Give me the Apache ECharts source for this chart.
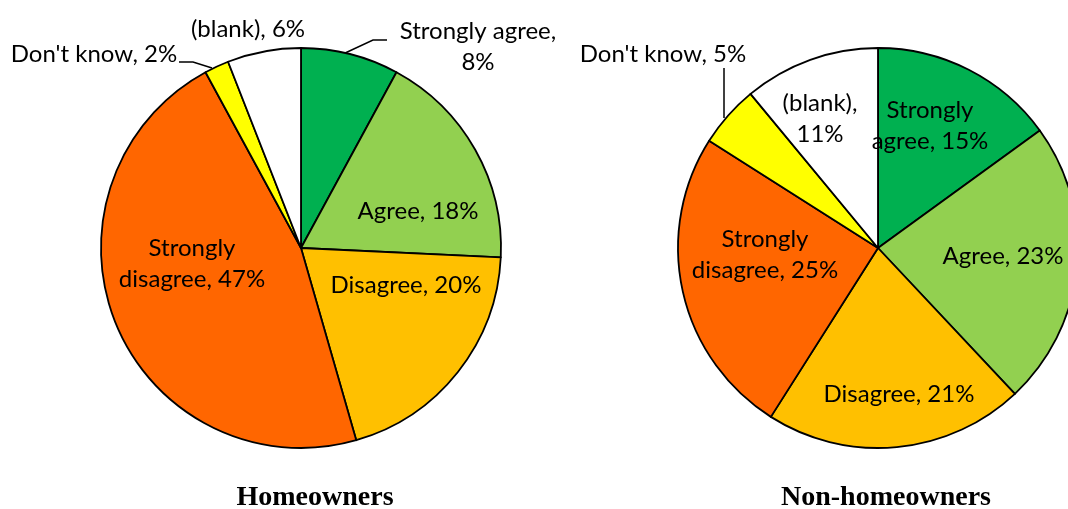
<!DOCTYPE html>
<html>
<head>
<meta charset="utf-8">
<script src="https://cdn.jsdelivr.net/npm/echarts@6/dist/echarts.min.js"></script>
<style>
  html, body { margin: 0; padding: 0; background: #fff; }
  #chart { width: 1068px; height: 509px; }
</style>
</head>
<body>
<div id="chart"></div>
<script>
// Survey answers, clockwise from 12 o'clock
const categories = ['Strongly agree', 'Agree', 'Disagree', 'Strongly disagree', "Don't know", '(blank)'];
const homeownerValues = [8, 18, 20, 47, 2, 6];
const nonHomeownerValues = [15, 23, 21, 25, 5, 11];
const chartTitles = ['Homeowners', 'Non-homeowners'];

const sliceColors = ['#00B050', '#92D050', '#FFC000', '#FF6600', '#FFFF00', '#FFFFFF'];

const LABEL_FONT = 'Lato, "Open Sans", sans-serif';

// Label placement per pie: centre of the text block, how the text wraps, optional leader line
const labelPlacement = [
  [
    { x: 478, y: 47,  wrap: 'comma', line: [[343, 54], [373, 40], [387, 40]] },
    { x: 418, y: 211, wrap: null },
    { x: 406, y: 285, wrap: null },
    { x: 192, y: 264, wrap: 'word' },
    { x: 94,  y: 54,  wrap: null, line: [[212, 68], [193, 62], [179, 62]] },
    { x: 248, y: 29,  wrap: null }
  ],
  [
    { x: 930, y: 126, wrap: 'word' },
    { x: 1003, y: 256, wrap: null },
    { x: 899, y: 394, wrap: null },
    { x: 765, y: 255, wrap: 'word' },
    { x: 663, y: 54,  wrap: null, line: [[724, 118], [724, 92], [724, 68]] },
    { x: 820, y: 119, wrap: 'comma' }
  ]
];

function labelText(seriesIndex, dataIndex, name, value) {
  const p = labelPlacement[seriesIndex][dataIndex];
  if (p.wrap === 'comma') return name + ',\n' + value + '%';
  if (p.wrap === 'word') {
    const i = name.indexOf(' ');
    return name.slice(0, i) + '\n' + name.slice(i + 1) + ', ' + value + '%';
  }
  return name + ', ' + value + '%';
}

function buildData(values, seriesIndex) {
  return categories.map((name, i) => ({
    name: name,
    value: values[i],
    itemStyle: { color: sliceColors[i] },
    labelLine: { show: !!labelPlacement[seriesIndex][i].line }
  }));
}

function pieSeries(values, seriesIndex, center) {
  return {
    type: 'pie',
    center: center,
    radius: 200,
    startAngle: 90,
    clockwise: true,
    avoidLabelOverlap: false,
    animation: false,
    silent: true,
    itemStyle: { borderColor: '#000', borderWidth: 1.8 },
    label: {
      show: true,
      position: 'outside',
      color: '#000',
      fontFamily: LABEL_FONT,
      fontSize: 24,
      lineHeight: 31,
      formatter: (p) => labelText(p.seriesIndex, p.dataIndex, p.name, p.value)
    },
    labelLine: {
      show: true,
      lineStyle: { color: '#000', width: 1.5 }
    },
    labelLayout: (params) => {
      const p = labelPlacement[params.seriesIndex][params.dataIndex];
      const out = { x: p.x, y: p.y, align: 'center', verticalAlign: 'middle' };
      if (p.line) out.labelLinePoints = p.line;
      return out;
    },
    data: buildData(values, seriesIndex)
  };
}

const chart = echarts.init(document.getElementById('chart'), null, { renderer: 'canvas' });
chart.setOption({
  backgroundColor: '#fff',
  animation: false,
  title: [
    {
      text: chartTitles[0], left: 310, top: 479, textAlign: 'center',
      textStyle: { fontFamily: '"Liberation Serif", "Times New Roman", serif', fontWeight: 'bold', fontSize: 28, color: '#000' }
    },
    {
      text: chartTitles[1], left: 881, top: 479, textAlign: 'center',
      textStyle: { fontFamily: '"Liberation Serif", "Times New Roman", serif', fontWeight: 'bold', fontSize: 28, color: '#000' }
    }
  ],
  series: [
    pieSeries(homeownerValues, 0, [301, 248]),
    pieSeries(nonHomeownerValues, 1, [878, 248])
  ]
});
</script>
</body>
</html>
